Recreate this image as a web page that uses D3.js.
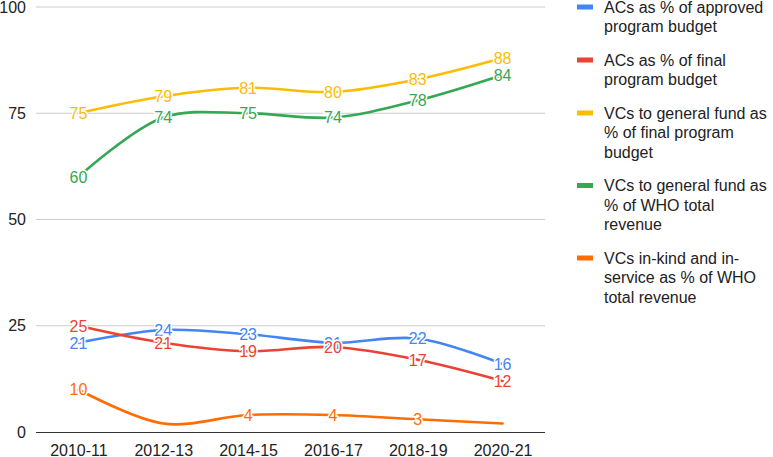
<!DOCTYPE html>
<html><head><meta charset="utf-8">
<script src="https://cdn.jsdelivr.net/npm/d3@7"></script>
<style>body{margin:0;background:#fff;} svg{display:block;font-family:Arial,"Liberation Sans",sans-serif;}</style>
</head><body>
<svg id="c" width="773" height="457"></svg>
<script>
const categories = ["2010-11","2012-13","2014-15","2016-17","2018-19","2020-21"];
const yTicks = [0,25,50,75,100];
const seriesNames = [
  "ACs as % of approved program budget",
  "ACs as % of final program budget",
  "VCs to general fund as % of final program budget",
  "VCs to general fund as % of WHO total revenue",
  "VCs in-kind and in-service as % of WHO total revenue"
];
const legendLines = [
  ["ACs as % of approved","program budget"],
  ["ACs as % of final","program budget"],
  ["VCs to general fund as","% of final program","budget"],
  ["VCs to general fund as","% of WHO total","revenue"],
  ["VCs in-kind and in-","service as % of WHO","total revenue"]
];
const colors = ["#4285F4","#EA4335","#FBBC04","#34A853","#FF6D01"];
const acApproved = [21,24,23,21,22,16];
const acFinal = [25,21,19,20,17,12];
const vcFinal = [75,79,81,80,83,88];
const vcRevenue = [60,74,75,74,78,84];
const vcInKind = [10,2,4,4,3,2];
const vcInKindLabelShown = [true,false,true,true,true,false];
const seriesValues = [acApproved, acFinal, vcFinal, vcRevenue, vcInKind];
const labelShown = [null,null,null,null,vcInKindLabelShown];

const svg = d3.select("#c");
const x = d3.scalePoint().domain(categories).range([36,545]).padding(0.5);
const y = d3.scaleLinear().domain([0,100]).range([432,7]);

// gridlines
svg.append("g").selectAll("line").data(yTicks.filter(d=>d!==0)).join("line")
  .attr("x1",36).attr("x2",545).attr("y1",d=>y(d)).attr("y2",d=>y(d))
  .attr("stroke","#cccccc").attr("stroke-width",1);

// y axis labels
const yAxis = svg.append("g").attr("transform","translate(36,0)")
  .call(d3.axisLeft(y).tickValues(yTicks).tickSize(0).tickPadding(10));
yAxis.select(".domain").remove();
yAxis.selectAll("text").attr("font-size",16).attr("fill","#222").attr("font-family","Arial, 'Liberation Sans', sans-serif");

// x axis
const xAxis = svg.append("g").attr("transform","translate(0,432)")
  .call(d3.axisBottom(x).tickSize(0).tickPadding(13));
xAxis.select(".domain").attr("d","M36,0.5H545").attr("stroke","#333").attr("stroke-width",1);
xAxis.selectAll("text").attr("font-size",16).attr("fill","#222").attr("font-family","Arial, 'Liberation Sans', sans-serif");

// lines
const line = d3.line().x((d,i)=>x(categories[i])).y(d=>y(d)).curve(d3.curveCatmullRom.alpha(0.5));
svg.append("g").selectAll("path").data(seriesValues).join("path")
  .attr("d",d=>line(d)).attr("fill","none")
  .attr("stroke",(d,i)=>colors[i]).attr("stroke-width",2.6)
  .attr("stroke-linejoin","round").attr("stroke-linecap","round");

// labels
seriesValues.forEach((vals,si)=>{
  svg.append("g").selectAll("text").data(vals.map((v,i)=>({v,i})).filter(d=>!labelShown[si]||labelShown[si][d.i]))
    .join("text")
    .attr("x",d=>x(categories[d.i])).attr("y",d=>y(d.v))
    .attr("dy","0.36em").attr("text-anchor","middle")
    .attr("font-size",16).attr("fill",colors[si])
    .attr("stroke","#fff").attr("stroke-width",3).attr("paint-order","stroke")
    .text(d=>d.v);
});

// legend
const lh = 19.5;
let ly = 7;
const leg = svg.append("g");
legendLines.forEach((lines,i)=>{
  leg.append("rect").attr("x",577).attr("y",ly-2.5).attr("width",16).attr("height",5).attr("fill",colors[i]);
  const t = leg.append("text").attr("x",604).attr("y",ly).attr("font-size",16).attr("fill","#222");
  lines.forEach((s,j)=>t.append("tspan").attr("x",604).attr("y",ly+j*lh).attr("dy","0.36em").text(s));
  ly += lines.length*lh + 14;
});
</script>
</body></html>
